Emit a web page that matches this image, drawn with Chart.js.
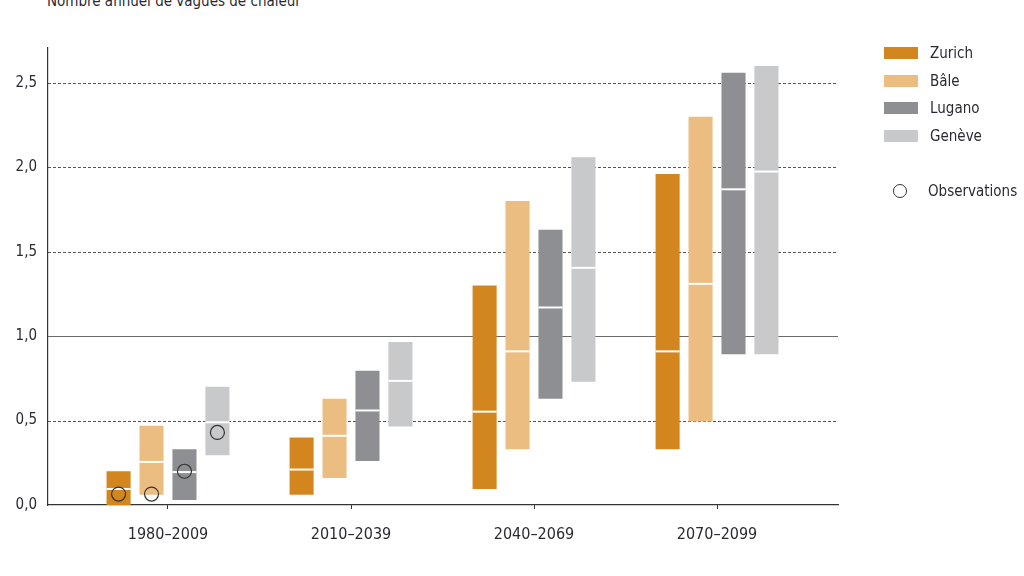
<!DOCTYPE html>
<html>
<head>
<meta charset="utf-8">
<script src="https://cdn.jsdelivr.net/npm/chart.js@4"></script>
<style>
  html, body { margin: 0; padding: 0; background: #fff; }
  #wrap { position: relative; width: 1024px; height: 576px; overflow: hidden;
          font-family: 'Liberation Sans Narrow', 'DejaVu Sans Condensed', sans-serif; color: #2a2a35; }
  #titre { position: absolute; left: 47px; top: -8px; font-size: 15px; }
  #grafico { position: absolute; left: 0; top: 0; }
  #legende { position: absolute; left: 884px; top: 44px; font-size: 15px; }
  .item { height: 27.7px; display: flex; align-items: flex-start; }
  .box { width: 34px; height: 12px; margin-top: 3px; margin-right: 12px; }
  .obs { margin-top: 27px; display: flex; }
  .rond { width: 14px; height: 14px; border: 1.3px solid #333; border-radius: 50%;
          margin: 2px 21px 0 9px; box-sizing: border-box; }
</style>
</head>
<body>
<div id="wrap">
  <div id="titre">Nombre annuel de vagues de chaleur</div>
  <canvas id="grafico" width="1024" height="576"></canvas>
  <div id="legende"></div>
</div>
<script>
// Périodes et villes
const periodes = ["1980–2009", "2010–2039", "2040–2069", "2070–2099"];
const villes = ["Zurich", "Bâle", "Lugano", "Genève"];
const couleurs = ["#d4861e", "#ebbd81", "#8e8f92", "#c8c9cb"];

// Plages (min, max) et médianes par ville
const zurichMin = [0.0, 0.06, 0.095, 0.33];
const zurichMax = [0.20, 0.40, 1.30, 1.96];
const zurichMed = [0.095, 0.21, 0.553, 0.91];

const baleMin = [0.06, 0.16, 0.33, 0.495];
const baleMax = [0.47, 0.63, 1.80, 2.30];
const baleMed = [0.255, 0.41, 0.91, 1.31];

const luganoMin = [0.03, 0.26, 0.63, 0.893];
const luganoMax = [0.33, 0.795, 1.63, 2.56];
const luganoMed = [0.195, 0.56, 1.17, 1.87];

const geneveMin = [0.295, 0.465, 0.73, 0.893];
const geneveMax = [0.70, 0.965, 2.06, 2.60];
const geneveMed = [0.49, 0.735, 1.405, 1.975];

// Observations (1980–2009), une par ville
const observations = [0.065, 0.065, 0.20, 0.43];

const yTicks = [0, 0.5, 1.0, 1.5, 2.0, 2.5];

const mins = [zurichMin, baleMin, luganoMin, geneveMin];
const maxs = [zurichMax, baleMax, luganoMax, geneveMax];
const meds = [zurichMed, baleMed, luganoMed, geneveMed];

const police = "'Liberation Sans Narrow', 'DejaVu Sans Condensed', sans-serif";

// Légende HTML
const legende = document.getElementById("legende");
villes.forEach((v, i) => {
    const d = document.createElement("div");
    d.className = "item";
    d.innerHTML = `<span class="box" style="background:${couleurs[i]}"></span><span>${v}</span>`;
    legende.appendChild(d);
});
const o = document.createElement("div");
o.className = "obs";
o.innerHTML = `<span class="rond"></span><span>Observations</span>`;
legende.appendChild(o);

// Lignes de grille (pointillées sauf 1,0)
const grille = {
    id: "grille",
    beforeDatasetsDraw(chart) {
        const { ctx, chartArea, scales } = chart;
        ctx.save();
        yTicks.forEach(t => {
            if (t === 0) return;
            const y = Math.round(scales.y.getPixelForValue(t)) + 0.5;
            ctx.beginPath();
            if (t === 1.0) {
                ctx.setLineDash([]);
                ctx.strokeStyle = "#6a6a6a";
                ctx.lineWidth = 1.2;
            } else {
                ctx.setLineDash([3, 2]);
                ctx.strokeStyle = "#555";
                ctx.lineWidth = 1;
            }
            ctx.moveTo(chartArea.left, y);
            ctx.lineTo(chartArea.right, y);
            ctx.stroke();
        });
        ctx.restore();
    }
};

// Médianes et observations
const marques = {
    id: "marques",
    afterDatasetsDraw(chart) {
        const { ctx, scales } = chart;
        ctx.save();
        meds.forEach((serie, d) => {
            const meta = chart.getDatasetMeta(d);
            meta.data.forEach((bar, i) => {
                const y = scales.y.getPixelForValue(serie[i]);
                ctx.fillStyle = "#ffffff";
                ctx.fillRect(bar.x - bar.width / 2, y - 1, bar.width, 2);
            });
        });
        observations.forEach((val, d) => {
            const bar = chart.getDatasetMeta(d).data[0];
            const y = scales.y.getPixelForValue(val);
            ctx.beginPath();
            ctx.arc(bar.x, y, 7, 0, Math.PI * 2);
            ctx.strokeStyle = "#333";
            ctx.lineWidth = 1.2;
            ctx.stroke();
        });
        ctx.restore();
    }
};

const datasets = villes.map((v, d) => ({
    label: v,
    data: periodes.map((p, i) => ({ x: i, y: [mins[d][i], maxs[d][i]] })),
    backgroundColor: couleurs[d],
    borderWidth: 0,
    categoryPercentage: 0.72,
    barPercentage: 0.73
}));

new Chart(document.getElementById("grafico"), {
    type: "bar",
    data: { datasets },
    options: {
        responsive: false,
        animation: false,
        layout: { padding: { top: 48, right: 186, left: 0, bottom: 0 } },
        plugins: { legend: { display: false }, tooltip: { enabled: false } },
        scales: {
            x: {
                type: "linear",
                offset: false,
                min: -0.6557,
                max: 3.661,
                afterBuildTicks(scale) { scale.ticks = periodes.map((p, i) => ({ value: i })); },
                afterFit(scale) { scale.height = 71; },
                grid: { offset: false, drawOnChartArea: false, drawTicks: true, tickLength: 4, color: "#333" },
                border: { color: "#333", width: 1.2 },
                ticks: {
                    padding: 16,
                    color: "#2a2a35",
                    font: { family: police, size: 16 },
                    callback: (v) => periodes[v] ?? ""
                }
            },
            y: {
                min: 0,
                max: 2.707,
                afterBuildTicks(scale) { scale.ticks = yTicks.map(v => ({ value: v })); },
                afterFit(scale) { scale.width = 48; },
                grid: { display: false },
                border: { color: "#333", width: 1.2 },
                ticks: {
                    padding: 3,
                    color: "#2a2a35",
                    font: { family: police, size: 15 },
                    callback: (v) => v.toFixed(1).replace(".", ",")
                }
            }
        }
    },
    plugins: [grille, marques]
});
</script>
</body>
</html>
